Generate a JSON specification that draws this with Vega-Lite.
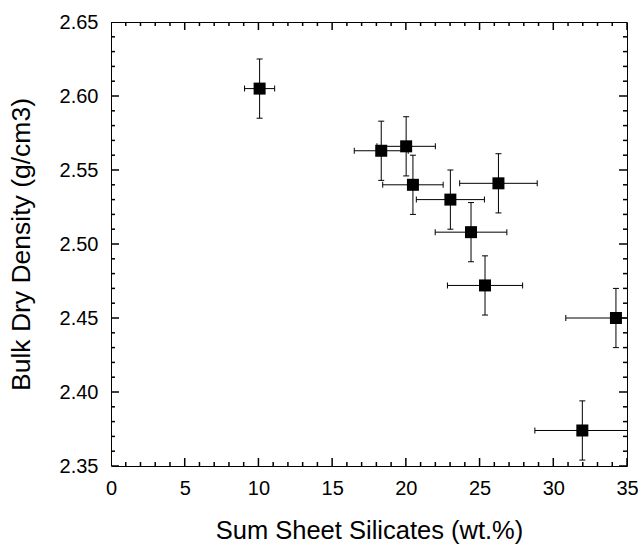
{
  "$schema": "https://vega.github.io/schema/vega-lite/v6.json",
  "width": 516,
  "height": 444,
  "autosize": {"type": "none"},
  "padding": {"left": 111, "top": 22, "right": 11, "bottom": 79},
  "background": "white",
  "config": {
    "font": "Liberation Sans",
    "view": {"stroke": "#000", "strokeWidth": 1},
    "axis": {
      "domain": false,
      "ticks": false,
      "grid": false,
      "labelColor": "#000",
      "labelFont": "Liberation Sans",
      "labelFontSize": 20,
      "titleColor": "#000",
      "titleFont": "Liberation Sans",
      "titleFontSize": 25.5,
      "titleFontWeight": "normal",
      "labelFlush": false,
      "labelOverlap": false
    }
  },
  "datasets": {
    "points": [
      {"x": 10.08, "y": 2.605, "xlo": 9.06, "xhi": 11.10, "ylo": 2.585, "yhi": 2.625},
      {"x": 18.33, "y": 2.563, "xlo": 16.50, "xhi": 20.16, "ylo": 2.543, "yhi": 2.583},
      {"x": 20.02, "y": 2.566, "xlo": 18.04, "xhi": 22.00, "ylo": 2.546, "yhi": 2.586},
      {"x": 20.48, "y": 2.540, "xlo": 18.43, "xhi": 22.53, "ylo": 2.520, "yhi": 2.560},
      {"x": 23.02, "y": 2.530, "xlo": 20.71, "xhi": 25.33, "ylo": 2.510, "yhi": 2.550},
      {"x": 24.42, "y": 2.508, "xlo": 21.99, "xhi": 26.85, "ylo": 2.488, "yhi": 2.528},
      {"x": 26.28, "y": 2.541, "xlo": 23.65, "xhi": 28.91, "ylo": 2.521, "yhi": 2.561},
      {"x": 25.37, "y": 2.472, "xlo": 22.82, "xhi": 27.92, "ylo": 2.452, "yhi": 2.492},
      {"x": 34.25, "y": 2.450, "xlo": 30.85, "xhi": 37.65, "ylo": 2.430, "yhi": 2.470},
      {"x": 31.97, "y": 2.374, "xlo": 28.75, "xhi": 35.19, "ylo": 2.354, "yhi": 2.394}
    ],
    "xticks": [
      {"v": 0, "major": true}, {"v": 1, "major": false}, {"v": 2, "major": false}, {"v": 3, "major": false}, {"v": 4, "major": false},
      {"v": 5, "major": true}, {"v": 6, "major": false}, {"v": 7, "major": false}, {"v": 8, "major": false}, {"v": 9, "major": false},
      {"v": 10, "major": true}, {"v": 11, "major": false}, {"v": 12, "major": false}, {"v": 13, "major": false}, {"v": 14, "major": false},
      {"v": 15, "major": true}, {"v": 16, "major": false}, {"v": 17, "major": false}, {"v": 18, "major": false}, {"v": 19, "major": false},
      {"v": 20, "major": true}, {"v": 21, "major": false}, {"v": 22, "major": false}, {"v": 23, "major": false}, {"v": 24, "major": false},
      {"v": 25, "major": true}, {"v": 26, "major": false}, {"v": 27, "major": false}, {"v": 28, "major": false}, {"v": 29, "major": false},
      {"v": 30, "major": true}, {"v": 31, "major": false}, {"v": 32, "major": false}, {"v": 33, "major": false}, {"v": 34, "major": false},
      {"v": 35, "major": true}
    ],
    "yticks": [
      {"v": 2.35, "major": true}, {"v": 2.36, "major": false}, {"v": 2.37, "major": false}, {"v": 2.38, "major": false}, {"v": 2.39, "major": false},
      {"v": 2.40, "major": true}, {"v": 2.41, "major": false}, {"v": 2.42, "major": false}, {"v": 2.43, "major": false}, {"v": 2.44, "major": false},
      {"v": 2.45, "major": true}, {"v": 2.46, "major": false}, {"v": 2.47, "major": false}, {"v": 2.48, "major": false}, {"v": 2.49, "major": false},
      {"v": 2.50, "major": true}, {"v": 2.51, "major": false}, {"v": 2.52, "major": false}, {"v": 2.53, "major": false}, {"v": 2.54, "major": false},
      {"v": 2.55, "major": true}, {"v": 2.56, "major": false}, {"v": 2.57, "major": false}, {"v": 2.58, "major": false}, {"v": 2.59, "major": false},
      {"v": 2.60, "major": true}, {"v": 2.61, "major": false}, {"v": 2.62, "major": false}, {"v": 2.63, "major": false}, {"v": 2.64, "major": false},
      {"v": 2.65, "major": true}
    ]
  },
  "layer": [
    {
      "data": {"name": "points"},
      "mark": {"type": "rule", "color": "#000", "strokeWidth": 1, "clip": true},
      "encoding": {
        "x": {"field": "xlo", "type": "quantitative", "scale": {"domain": [0, 35], "nice": false, "zero": false},
          "axis": {"values": [0, 5, 10, 15, 20, 25, 30, 35], "labelPadding": 12, "title": "Sum Sheet Silicates (wt.%)", "titlePadding": 20}},
        "x2": {"field": "xhi"},
        "y": {"field": "y", "type": "quantitative", "scale": {"domain": [2.35, 2.65], "nice": false, "zero": false},
          "axis": {"values": [2.35, 2.40, 2.45, 2.50, 2.55, 2.60, 2.65], "format": ".2f", "labelPadding": 13,
            "title": "Bulk Dry Density (g/cm3)", "titlePadding": 24, "titleFontSize": 26.5}}
      }
    },
    {
      "data": {"name": "points"},
      "mark": {"type": "rule", "color": "#000", "strokeWidth": 1, "clip": true},
      "encoding": {
        "x": {"field": "x", "type": "quantitative"},
        "y": {"field": "ylo", "type": "quantitative"},
        "y2": {"field": "yhi"}
      }
    },
    {
      "data": {"name": "points"},
      "mark": {"type": "tick", "orient": "vertical", "size": 6, "thickness": 1, "color": "#000", "opacity": 1, "clip": true},
      "encoding": {
        "x": {"field": "xlo", "type": "quantitative"},
        "y": {"field": "y", "type": "quantitative"}
      }
    },
    {
      "data": {"name": "points"},
      "mark": {"type": "tick", "orient": "vertical", "size": 6, "thickness": 1, "color": "#000", "opacity": 1, "clip": true},
      "encoding": {
        "x": {"field": "xhi", "type": "quantitative"},
        "y": {"field": "y", "type": "quantitative"}
      }
    },
    {
      "data": {"name": "points"},
      "mark": {"type": "tick", "orient": "horizontal", "size": 6, "thickness": 1, "color": "#000", "opacity": 1, "clip": true},
      "encoding": {
        "x": {"field": "x", "type": "quantitative"},
        "y": {"field": "ylo", "type": "quantitative"}
      }
    },
    {
      "data": {"name": "points"},
      "mark": {"type": "tick", "orient": "horizontal", "size": 6, "thickness": 1, "color": "#000", "opacity": 1, "clip": true},
      "encoding": {
        "x": {"field": "x", "type": "quantitative"},
        "y": {"field": "yhi", "type": "quantitative"}
      }
    },
    {
      "data": {"name": "points"},
      "mark": {"type": "square", "size": 144, "filled": true, "color": "#000", "opacity": 1},
      "encoding": {
        "x": {"field": "x", "type": "quantitative"},
        "y": {"field": "y", "type": "quantitative"}
      }
    },
    {
      "data": {"name": "xticks"},
      "transform": [{"filter": "!datum.major"}],
      "mark": {"type": "tick", "orient": "vertical", "size": 8, "thickness": 1.5, "color": "#000", "opacity": 1, "clip": true},
      "encoding": {"x": {"field": "v", "type": "quantitative"}, "y": {"datum": 2.35, "type": "quantitative"}}
    },
    {
      "data": {"name": "xticks"},
      "transform": [{"filter": "!datum.major"}],
      "mark": {"type": "tick", "orient": "vertical", "size": 8, "thickness": 1.5, "color": "#000", "opacity": 1, "clip": true},
      "encoding": {"x": {"field": "v", "type": "quantitative"}, "y": {"datum": 2.65, "type": "quantitative"}}
    },
    {
      "data": {"name": "xticks"},
      "transform": [{"filter": "datum.major"}],
      "mark": {"type": "tick", "orient": "vertical", "size": 16, "thickness": 1.5, "color": "#000", "opacity": 1, "clip": true},
      "encoding": {"x": {"field": "v", "type": "quantitative"}, "y": {"datum": 2.35, "type": "quantitative"}}
    },
    {
      "data": {"name": "xticks"},
      "transform": [{"filter": "datum.major"}],
      "mark": {"type": "tick", "orient": "vertical", "size": 16, "thickness": 1.5, "color": "#000", "opacity": 1, "clip": true},
      "encoding": {"x": {"field": "v", "type": "quantitative"}, "y": {"datum": 2.65, "type": "quantitative"}}
    },
    {
      "data": {"name": "yticks"},
      "transform": [{"filter": "!datum.major"}],
      "mark": {"type": "tick", "orient": "horizontal", "size": 8, "thickness": 1.5, "color": "#000", "opacity": 1, "clip": true},
      "encoding": {"y": {"field": "v", "type": "quantitative"}, "x": {"datum": 0, "type": "quantitative"}}
    },
    {
      "data": {"name": "yticks"},
      "transform": [{"filter": "!datum.major"}],
      "mark": {"type": "tick", "orient": "horizontal", "size": 8, "thickness": 1.5, "color": "#000", "opacity": 1, "clip": true},
      "encoding": {"y": {"field": "v", "type": "quantitative"}, "x": {"datum": 35, "type": "quantitative"}}
    },
    {
      "data": {"name": "yticks"},
      "transform": [{"filter": "datum.major"}],
      "mark": {"type": "tick", "orient": "horizontal", "size": 16, "thickness": 1.5, "color": "#000", "opacity": 1, "clip": true},
      "encoding": {"y": {"field": "v", "type": "quantitative"}, "x": {"datum": 0, "type": "quantitative"}}
    },
    {
      "data": {"name": "yticks"},
      "transform": [{"filter": "datum.major"}],
      "mark": {"type": "tick", "orient": "horizontal", "size": 16, "thickness": 1.5, "color": "#000", "opacity": 1, "clip": true},
      "encoding": {"y": {"field": "v", "type": "quantitative"}, "x": {"datum": 35, "type": "quantitative"}}
    }
  ]
}
